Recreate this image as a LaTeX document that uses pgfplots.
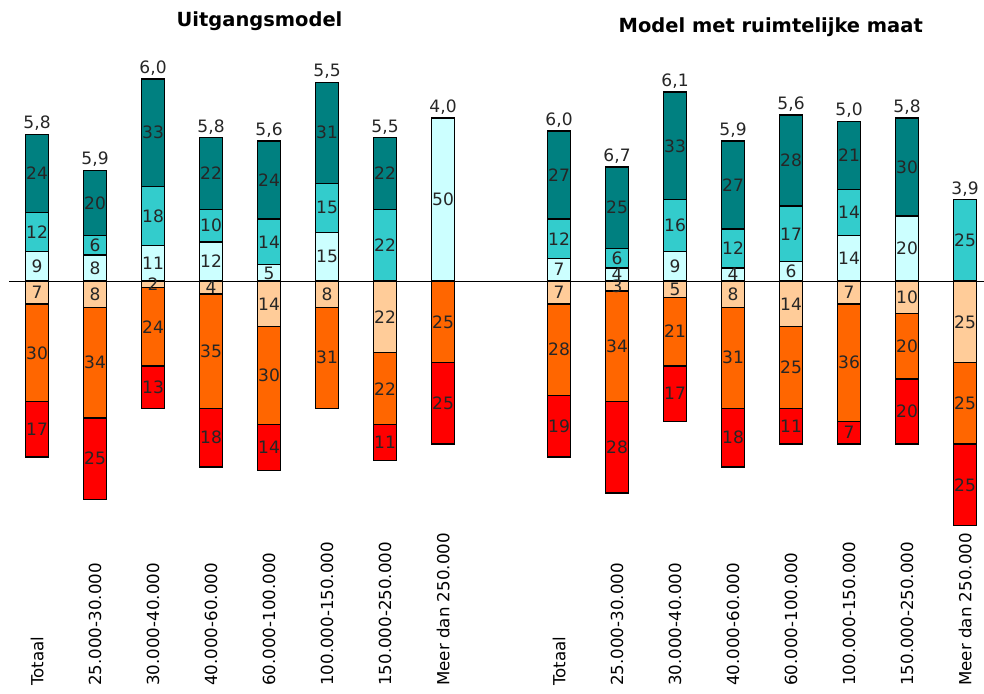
\documentclass[border=0pt]{standalone}
\usepackage{pgfplots}
\pgfplotsset{compat=1.18}
\usepackage{pgfplotstable}
\usepackage{fontspec}
\setmainfont{DejaVu Sans}

\definecolor{lcyan}{HTML}{CCFFFF}
\definecolor{mcyan}{HTML}{33CCCC}
\definecolor{dteal}{HTML}{008080}
\definecolor{lorange}{HTML}{FFCC99}
\definecolor{dorange}{HTML}{FF6600}
\definecolor{bred}{HTML}{FF0000}

% x = 0..7 Uitgangsmodel, 9..16 Model met ruimtelijke maat
% lc/mc/dt above the line, lo/or/rd below it, tot = label on top
\pgfplotstableread{
x  lc mc dt tot lo or rd
0  9  12 24 5.8 7  30 17
1  8  6  20 5.9 8  34 25
2  11 18 33 6.0 2  24 13
3  12 10 22 5.8 4  35 18
4  5  14 24 5.6 14 30 14
5  15 15 31 5.5 8  31 0
6  0  22 22 5.5 22 22 11
7  50 0  0  4.0 0  25 25
9  7  12 27 6.0 7  28 19
10 4  6  25 6.7 3  34 28
11 9  16 33 6.1 5  21 17
12 4  12 27 5.9 8  31 18
13 6  17 28 5.6 14 25 11
14 14 14 21 5.0 7  36 7
15 20 0  30 5.8 10 20 20
16 0  25 0  3.9 25 25 25
}\data

\newcommand\lbl{\fontsize{12.8}{14}\selectfont}

\pgfplotsset{
  base/.style={
    x=43.5pt, y=2.445pt,
    xmin=-0.48, xmax=16.33, ymin=-124.2, ymax=86,
    ybar stacked, bar width=17.6pt,
    axis line style={draw=none},
    ytick=\empty, xtick=\empty,
    major tick length=0pt,
    clip=false,
    /pgf/number format/assume math mode=true,
  },
  seg/.style={fill=#1, draw=black, line width=1pt,
    point meta=explicit,
    nodes near coords={\pgfmathfloatifflags{\pgfplotspointmeta}{0}{}{\pgfmathprintnumber{\pgfplotspointmeta}}},
    every node near coord/.style={font=\lbl, text=black!85, anchor=center},
  },
  ghost/.style={draw=none, fill=none},
}

\begin{document}
\begin{tikzpicture}
% above the line
\begin{axis}[base,
    xtick={0,...,7,9,10,...,16},
    xticklabels={Totaal,25.000-30.000,30.000-40.000,40.000-60.000,60.000-100.000,100.000-150.000,150.000-250.000,Meer dan 250.000,
                 Totaal,25.000-30.000,30.000-40.000,40.000-60.000,60.000-100.000,100.000-150.000,150.000-250.000,Meer dan 250.000},
    xticklabel style={rotate=90, anchor=west, inner sep=0pt, font=\fontsize{12.5}{14}\selectfont},
    extra y ticks={0}, extra y tick labels={},
    extra y tick style={grid=major, major grid style={black, line width=0.8pt}},
  ]
  \addplot[seg=lcyan] table[x=x, y=lc, meta=lc] {\data};
  \addplot[seg=mcyan] table[x=x, y=mc, meta=mc] {\data};
  \addplot[seg=dteal] table[x=x, y=dt, meta=dt] {\data};
  \node[font=\bfseries\fontsize{14.6}{17}\selectfont, anchor=base] at (axis cs:3.836,78.1) {Uitgangsmodel};
  \node[font=\bfseries\fontsize{14.6}{17}\selectfont, anchor=base] at (axis cs:12.65,76.3) {Model met ruimtelijke maat};
\end{axis}
% below the line
\begin{axis}[base]
  \addplot[seg=lorange] table[x=x, y expr=-\thisrow{lo}, meta=lo] {\data};
  \addplot[seg=dorange] table[x=x, y expr=-\thisrow{or}, meta=or] {\data};
  \addplot[seg=bred] table[x=x, y expr=-\thisrow{rd}, meta=rd] {\data};
\end{axis}
% totals on top of the upper stack
\begin{axis}[base, stacked ignores zero=false]
  \addplot[ghost] table[x=x, y=lc] {\data};
  \addplot[ghost] table[x=x, y=mc] {\data};
  \addplot[ghost, point meta=explicit,
    visualization depends on={rawy \as \seg},
    nodes near coords={\pgfmathprintnumber[fixed, fixed zerofill, precision=1, use comma]{\pgfplotspointmeta}},
    every node near coord/.style={font=\lbl, text=black!85, anchor=south, inner sep=2.5pt, yshift=0.5*\seg*2.445pt}]
    table[x=x, y=dt, meta=tot] {\data};
\end{axis}
\pgfresetboundingbox
\path (-6.9pt,-5.25pt) rectangle (731.1pt,514.5pt);
\end{tikzpicture}
\end{document}
